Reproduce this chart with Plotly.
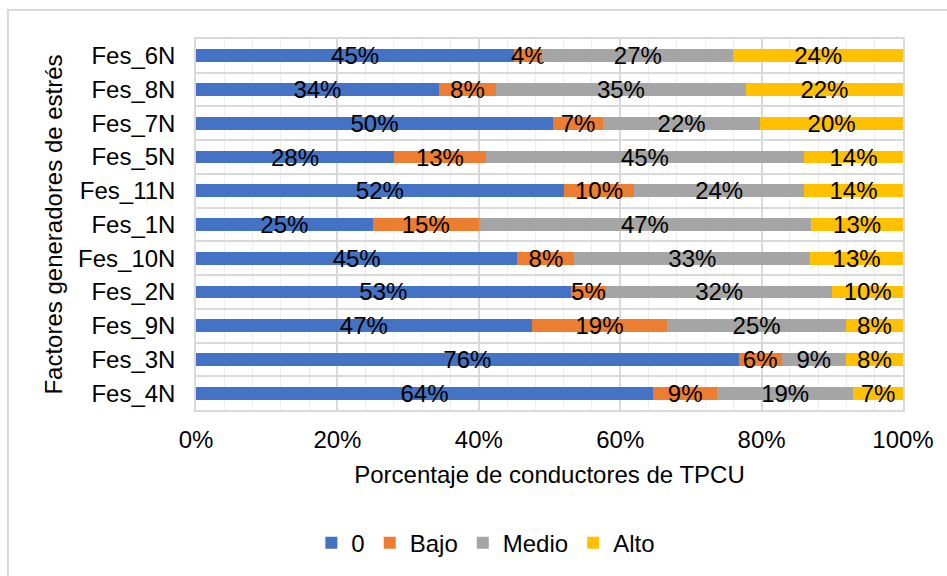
import plotly.graph_objects as go

# Stress-factor categories, listed top to bottom as displayed
categories = ["Fes_6N", "Fes_8N", "Fes_7N", "Fes_5N", "Fes_11N", "Fes_1N",
              "Fes_10N", "Fes_2N", "Fes_9N", "Fes_3N", "Fes_4N"]

# Share of drivers (%) per stress level
nivel_0 = [45, 34, 50, 28, 52, 25, 45, 53, 47, 76, 64]
bajo = [4, 8, 7, 13, 10, 15, 8, 5, 19, 6, 9]
medio = [27, 35, 22, 45, 24, 47, 33, 32, 25, 9, 19]
alto = [24, 22, 20, 14, 14, 13, 13, 10, 8, 8, 7]

# Percentage axis ticks
x_ticks = [0, 20, 40, 60, 80, 100]
x_tick_labels = ["0%", "20%", "40%", "60%", "80%", "100%"]

series = [
    ("0", nivel_0, "#4472C4"),
    ("Bajo", bajo, "#ED7D31"),
    ("Medio", medio, "#A5A5A5"),
    ("Alto", alto, "#FFC000"),
]

FONT = "Liberation Sans, Arial, sans-serif"
FS = 24

fig = go.Figure()
for name, vals, color in series:
    fig.add_trace(go.Bar(
        y=categories,
        x=vals,
        name=name,
        orientation="h",
        marker=dict(color=color, line=dict(width=0)),
        text=[f"{v}%" for v in vals],
        textposition="inside",
        insidetextanchor="middle",
        constraintext="none",
        textfont=dict(family=FONT, size=FS, color="#000000"),
    ))

fig.update_layout(
    barmode="stack",
    barnorm="percent",
    bargap=0.62,
    width=947,
    height=576,
    margin=dict(l=196, r=44, t=39, b=165),
    paper_bgcolor="white",
    plot_bgcolor="white",
    font=dict(family=FONT, size=FS, color="#000000"),
    showlegend=True,
    legend=dict(
        orientation="h",
        x=0.41, xanchor="center",
        y=-0.355, yanchor="middle",
        font=dict(family=FONT, size=FS, color="#000000"),
        traceorder="normal",
    ),
    xaxis=dict(
        range=[0, 100],
        tickvals=x_ticks,
        ticktext=x_tick_labels,
        showgrid=True,
        gridcolor="#d9d9d9",
        gridwidth=1.5,
        minor=dict(dtick=4, showgrid=True, gridcolor="#ededed", gridwidth=1),
        zeroline=False,
        showline=True,
        linecolor="#d9d9d9",
        linewidth=1.5,
        mirror=True,
        ticks="",
        ticklabelstandoff=7,
        title=dict(text="Porcentaje de conductores de TPCU",
                   font=dict(family=FONT, size=FS, color="#000000"),
                   standoff=15),
    ),
    yaxis=dict(
        autorange="reversed",
        tickson="boundaries",
        showgrid=True,
        gridcolor="#d9d9d9",
        gridwidth=1.5,
        showline=True,
        linecolor="#d9d9d9",
        linewidth=1.5,
        mirror=True,
        ticks="",
        ticklabelstandoff=14,
        title=dict(text="Factores generadores de estrés",
                   font=dict(family=FONT, size=FS, color="#000000"),
                   standoff=9),
    ),
    shapes=[dict(
        type="rect", xref="paper", yref="paper",
        x0=-0.266, x1=1.3, y0=-0.6, y1=1.078,
        line=dict(color="#d9d9d9", width=2),
        fillcolor="rgba(0,0,0,0)", layer="below",
    )],
)

fig.write_html("out.html")
